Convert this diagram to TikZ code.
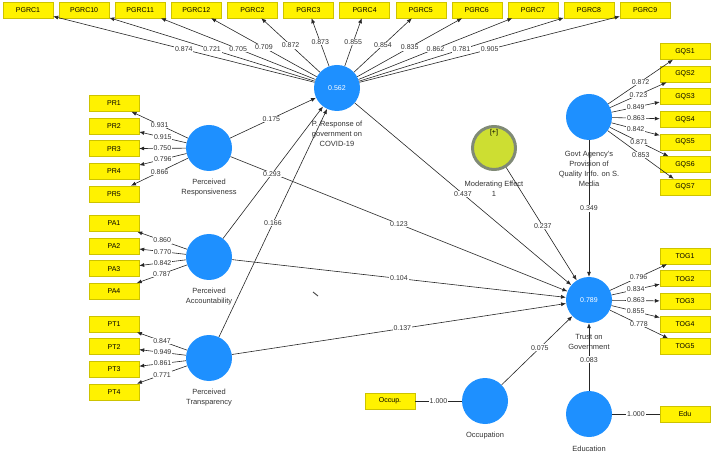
\documentclass[tikz,border=0pt]{standalone}
\usepackage{fontspec}
\setmainfont{Liberation Sans}
\usetikzlibrary{arrows.meta}

\definecolor{lvblue}{RGB}{30,144,255}
\definecolor{mvline}{RGB}{205,195,0}
\definecolor{modfill}{RGB}{205,222,50}
\definecolor{modline}{RGB}{128,138,118}

\begin{document}
\begin{tikzpicture}[x=1pt,y=-1pt,>={Latex[length=5pt,width=4pt]}]
\tikzstyle{every node}=[font=\fontsize{7}{9}\selectfont,text=black!80]
\tikzstyle{lv}=[circle,fill=lvblue,minimum size=46pt,inner sep=0pt,text=white]
\tikzstyle{modlv}=[circle,fill=modfill,draw=modline,line width=3pt,minimum size=43pt,inner sep=0pt]
\tikzstyle{mv}=[draw=mvline,fill=yellow,minimum width=50pt,minimum height=16pt,inner sep=0pt,text=black]
\tikzstyle{captxt}=[align=center,font=\fontsize{7.5}{10}\selectfont]
\tikzstyle{val}=[fill=white,inner sep=0.8pt]
\def \dx {56.1}
\def \dy {22.6}
\useasboundingbox (0,0) rectangle (712,454);
\draw
  (337, 88) node [lv]    (pgrc) {0.562}
  (209,148) node [lv]    (pr)   {}
  (209,257) node [lv]    (pa)   {}
  (209,358) node [lv]    (pt)   {}
  (589,117) node [lv]    (gqs)  {}
  (494,148) node [modlv] (mod)  {}
  (589,300) node [lv]    (tog)  {0.789}
  (485,401) node [lv]    (occ)  {}
  (589,414) node [lv]    (edu)  {}
  (337,134) node [captxt] (pgrccap) {P. Response of\\government on\\COVID-19}
  (209,188) node [captxt] (prcap)   {Perceived\\Responsiveness}
  (209,297) node [captxt] (pacap)   {Perceived\\Accountability}
  (209,398) node [captxt] (ptcap)   {Perceived\\Transparency}
  (589,169) node [captxt] (gqscap)  {Govt Agency's\\Provision of\\Quality Info. on S.\\Media}
  (494,189) node [captxt] (modcap)  {Moderating Effect\\1}
  (589,342) node [captxt] (togcap)  {Trust on\\Government}
  (485,436) node [captxt] (occcap)  {Occupation}
  (589,449) node [captxt] (educap)  {Education}
  (494,133) node [text=black] (modplus) {[+]}
  ( 28, 10) node [mv] (pgrc1)  {PGRC1}
++(\dx, 0) node [mv] (pgrc10) {PGRC10}
++(\dx, 0) node [mv] (pgrc11) {PGRC11}
++(\dx, 0) node [mv] (pgrc12) {PGRC12}
++(\dx, 0) node [mv] (pgrc2)  {PGRC2}
++(\dx, 0) node [mv] (pgrc3)  {PGRC3}
++(\dx, 0) node [mv] (pgrc4)  {PGRC4}
++(\dx, 0) node [mv] (pgrc5)  {PGRC5}
++(\dx, 0) node [mv] (pgrc6)  {PGRC6}
++(\dx, 0) node [mv] (pgrc7)  {PGRC7}
++(\dx, 0) node [mv] (pgrc8)  {PGRC8}
++(\dx, 0) node [mv] (pgrc9)  {PGRC9}
  (114,103.5) node [mv] (pr1) {PR1}
++(0,\dy) node [mv] (pr2) {PR2}
++(0,\dy) node [mv] (pr3) {PR3}
++(0,\dy) node [mv] (pr4) {PR4}
++(0,\dy) node [mv] (pr5) {PR5}
  (114,223.5) node [mv] (pa1) {PA1}
++(0,\dy) node [mv] (pa2) {PA2}
++(0,\dy) node [mv] (pa3) {PA3}
++(0,\dy) node [mv] (pa4) {PA4}
  (114,324) node [mv] (pt1) {PT1}
++(0,\dy) node [mv] (pt2) {PT2}
++(0,\dy) node [mv] (pt3) {PT3}
++(0,\dy) node [mv] (pt4) {PT4}
  (685,51.5) node [mv] (gqs1) {GQS1}
++(0,\dy) node [mv] (gqs2) {GQS2}
++(0,\dy) node [mv] (gqs3) {GQS3}
++(0,\dy) node [mv] (gqs4) {GQS4}
++(0,\dy) node [mv] (gqs5) {GQS5}
++(0,\dy) node [mv] (gqs6) {GQS6}
++(0,\dy) node [mv] (gqs7) {GQS7}
  (685,256) node [mv] (tog1) {TOG1}
++(0,\dy) node [mv] (tog2) {TOG2}
++(0,\dy) node [mv] (tog3) {TOG3}
++(0,\dy) node [mv] (tog4) {TOG4}
++(0,\dy) node [mv] (tog5) {TOG5}
  (390,401) node [mv] (occbox) {Occup.}
  (685,414) node [mv] (edubox) {Edu}
;
\coordinate (dash1) at (313,292);
\coordinate (dash2) at (318,296);
\draw[line width=1pt,black!70] (dash1) -- (dash2);
\path[->,draw,line width=0.6pt,black!85]
(pgrc) edge node [val] {0.874} (pgrc1)
(pgrc) edge node [val] {0.721} (pgrc10)
(pgrc) edge node [val] {0.705} (pgrc11)
(pgrc) edge node [val] {0.709} (pgrc12)
(pgrc) edge node [val] {0.872} (pgrc2)
(pgrc) edge node [val] {0.873} (pgrc3)
(pgrc) edge node [val] {0.855} (pgrc4)
(pgrc) edge node [val] {0.854} (pgrc5)
(pgrc) edge node [val] {0.835} (pgrc6)
(pgrc) edge node [val] {0.862} (pgrc7)
(pgrc) edge node [val] {0.781} (pgrc8)
(pgrc) edge node [val] {0.905} (pgrc9)

(pr) edge node [val] {0.931} (pr1)
(pr) edge node [val] {0.915} (pr2)
(pr) edge node [val] {0.750} (pr3)
(pr) edge node [val] {0.796} (pr4)
(pr) edge node [val] {0.866} (pr5)
(pa) edge node [val] {0.860} (pa1)
(pa) edge node [val] {0.770} (pa2)
(pa) edge node [val] {0.842} (pa3)
(pa) edge node [val] {0.787} (pa4)
(pt) edge node [val] {0.847} (pt1)
(pt) edge node [val] {0.949} (pt2)
(pt) edge node [val] {0.861} (pt3)
(pt) edge node [val] {0.771} (pt4)

(gqs) edge node [val] {0.872} (gqs1)
(gqs) edge node [val] {0.723} (gqs2)
(gqs) edge node [val] {0.849} (gqs3)
(gqs) edge node [val] {0.863} (gqs4)
(gqs) edge node [val] {0.842} (gqs5)
(gqs) edge node [val] {0.871} (gqs6)
(gqs) edge node [val] {0.853} (gqs7)
(tog) edge node [val] {0.796} (tog1)
(tog) edge node [val] {0.834} (tog2)
(tog) edge node [val] {0.863} (tog3)
(tog) edge node [val] {0.855} (tog4)
(tog) edge node [val] {0.778} (tog5)

(pr)   edge node [val,pos=.48] {0.175} (pgrc)
(pr)   edge node [val] {0.123} (tog)
(pa)   edge node [val,pos=.49] {0.293} (pgrc)
(pa)   edge node [val] {0.104} (tog)
(pt)   edge node [val] {0.166} (pgrc)
(pt)   edge node [val,pos=.51] {0.137} (tog)
(pgrc) edge node [val] {0.437} (tog)
(mod)  edge node [val,pos=.52] {0.237} (tog)
(gqs)  edge node [val] {0.349} (tog)
(occ)  edge node [val,pos=.54] {0.075} (tog)
(edu)  edge node [val,pos=.46] {0.083} (tog)
;
\path[draw,line width=0.6pt,black!85]
(occbox) edge node [val] {1.000} (occ)
(edu)    edge node [val] {1.000} (edubox)
;
\end{tikzpicture}
\end{document}
